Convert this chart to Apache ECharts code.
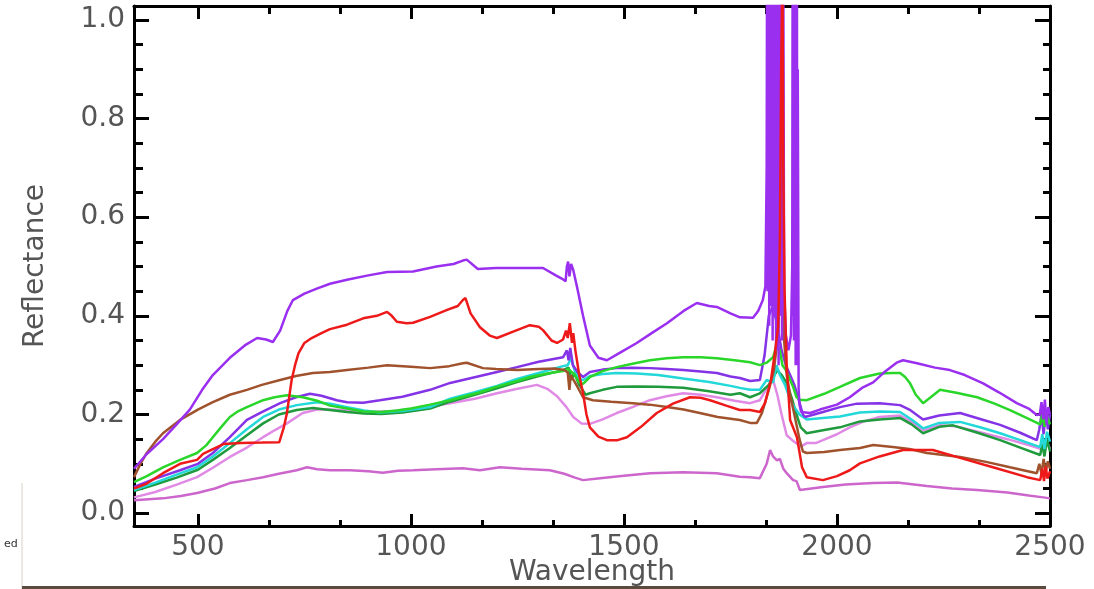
<!DOCTYPE html>
<html>
<head>
<meta charset="utf-8">
<title>Reflectance spectra</title>
<script src="https://cdn.jsdelivr.net/npm/echarts@6/dist/echarts.min.js"></script>
<style>
  html, body { margin: 0; padding: 0; background: #ffffff; }
  #chart { width: 1094px; height: 589px; }
</style>
</head>
<body>
<div id="chart"></div>
<script>
// Axis ticks and labels
const xMajorTicks = [500, 1000, 1500, 2000, 2500];
const xMinorTicks = [667, 833, 1167, 1333, 1667, 1833, 2167, 2333];
const yMajorTicks = [0.0, 0.2, 0.4, 0.6, 0.8, 1.0];
const yMinorTicks = [0.05, 0.1, 0.15, 0.25, 0.3, 0.35, 0.45, 0.5, 0.55, 0.65, 0.7, 0.75, 0.85, 0.9, 0.95];

// Spectra: [wavelength (nm), reflectance]
const specViolet = [
  [350,0.09],[380,0.12],[418,0.15],[450,0.18],[481,0.21],[510,0.25],[535,0.28],[575,0.315],[610,0.34],[639,0.355],
  [660,0.352],[676,0.347],[693,0.37],[710,0.41],[723,0.432],[750,0.445],[779,0.455],[810,0.465],[850,0.473],[900,0.482],
  [944,0.489],[1005,0.49],[1060,0.5],[1100,0.505],[1122,0.512],[1131,0.514],[1157,0.495],[1200,0.497],[1249,0.497],[1310,0.497],
  [1340,0.482],[1355,0.475],[1363,0.47],[1366,0.5],[1369,0.51],[1372,0.48],[1376,0.505],[1381,0.493],[1390,0.458],[1404,0.40],
  [1420,0.34],[1440,0.315],[1460,0.31],[1490,0.325],[1530,0.345],[1565,0.365],[1601,0.385],[1640,0.41],[1671,0.426],[1700,0.42],
  [1718,0.418],[1750,0.405],[1772,0.397],[1803,0.396],[1815,0.41],[1826,0.432],[1832,0.46],[1835,0.7],
  [1836,1.2],[1837,0.45],[1838,1.3],[1839,0.5],[1840,1.25],[1841,0.38],[1842,1.4],[1843,0.6],[1844,1.3],[1845,0.42],
  [1846,1.2],[1847,0.55],[1848,1.35],[1849,0.35],[1850,1.3],[1851,0.5],[1852,1.4],[1853,0.4],[1854,1.25],[1855,0.62],
  [1856,1.3],[1857,0.33],[1858,1.4],[1859,0.5],[1860,1.3],[1861,0.45],[1862,1.35],[1863,0.3],[1864,1.2],[1865,0.55],
  [1866,1.3],[1867,0.4],[1868,1.25],[1869,0.6],[1870,1.35],[1871,0.35],[1872,1.2],[1873,0.5],[1874,1.1],[1876,0.45],
  [1880,0.36],[1886,0.33],[1892,0.36],[1895,0.5],[1896,1.2],[1897,0.4],[1898,1.3],[1899,0.35],[1900,1.25],[1901,0.45],
  [1902,1.3],[1903,0.3],[1904,1.2],[1905,0.5],[1906,1.1],[1907,0.3],[1908,0.9],[1910,0.25],[1912,0.22],[1916,0.205],
  [1937,0.203],[1960,0.21],[2000,0.22],[2030,0.235],[2061,0.255],[2085,0.265],[2110,0.285],[2140,0.305],[2155,0.31],[2188,0.304],
  [2230,0.295],[2265,0.29],[2300,0.28],[2343,0.263],[2380,0.245],[2422,0.223],[2450,0.212],[2469,0.199],[2476,0.2],[2480,0.225],
  [2484,0.19],[2488,0.23],[2492,0.18],[2496,0.215],[2500,0.2]
];

const specRed = [
  [350,0.05],[380,0.06],[418,0.081],[458,0.10],[498,0.108],[512,0.12],[545,0.134],[560,0.14],[600,0.142],[650,0.143],
  [691,0.144],[702,0.175],[709,0.203],[715,0.24],[720,0.27],[728,0.30],[736,0.324],[750,0.345],[767,0.355],[790,0.365],
  [810,0.373],[850,0.382],[888,0.395],[920,0.40],[944,0.408],[955,0.40],[967,0.388],[990,0.385],[1005,0.386],[1045,0.398],
  [1085,0.412],[1110,0.42],[1122,0.432],[1128,0.436],[1140,0.405],[1162,0.377],[1185,0.36],[1202,0.355],[1240,0.368],[1279,0.381],
  [1300,0.378],[1310,0.371],[1330,0.35],[1343,0.345],[1357,0.352],[1364,0.37],[1368,0.355],[1373,0.385],[1378,0.345],[1381,0.365],
  [1386,0.33],[1395,0.28],[1404,0.243],[1412,0.2],[1420,0.174],[1440,0.155],[1460,0.148],[1485,0.148],[1507,0.154],[1540,0.175],
  [1577,0.203],[1615,0.222],[1655,0.235],[1680,0.234],[1702,0.229],[1740,0.218],[1772,0.209],[1796,0.209],[1819,0.205],[1831,0.223],
  [1845,0.27],[1855,0.33],[1862,0.378],[1866,0.55],[1869,0.9],[1872,1.1],[1874,0.7],[1877,0.45],[1882,0.3],[1890,0.189],
  [1906,0.154],[1918,0.093],[1929,0.073],[1967,0.067],[2000,0.075],[2030,0.087],[2054,0.101],[2100,0.115],[2155,0.128],[2225,0.128],
  [2289,0.112],[2366,0.093],[2446,0.073],[2477,0.067],[2482,0.09],[2486,0.065],[2490,0.095],[2494,0.07],[2500,0.085]
];

const specBrown = [
  [350,0.073],[365,0.1],[380,0.122],[400,0.145],[418,0.162],[458,0.189],[500,0.21],[535,0.225],[575,0.24],[615,0.25],
  [650,0.26],[693,0.27],[730,0.278],[770,0.284],[810,0.286],[850,0.29],[900,0.295],[944,0.30],[1000,0.297],[1045,0.294],
  [1090,0.298],[1122,0.304],[1131,0.305],[1169,0.294],[1200,0.292],[1249,0.29],[1300,0.292],[1340,0.293],[1360,0.29],[1368,0.285],
  [1372,0.25],[1375,0.28],[1385,0.265],[1404,0.235],[1427,0.229],[1470,0.226],[1521,0.223],[1560,0.22],[1601,0.215],[1640,0.21],
  [1678,0.203],[1720,0.195],[1772,0.189],[1796,0.183],[1812,0.183],[1824,0.203],[1840,0.25],[1852,0.29],[1860,0.35],[1866,0.5],
  [1870,0.68],[1873,0.45],[1876,0.35],[1882,0.28],[1890,0.24],[1900,0.2],[1912,0.15],[1920,0.125],[1929,0.122],[1970,0.124],
  [2007,0.128],[2054,0.132],[2085,0.138],[2131,0.134],[2170,0.13],[2211,0.122],[2250,0.118],[2289,0.114],[2350,0.104],[2406,0.093],
  [2469,0.081],[2475,0.1],[2480,0.08],[2485,0.11],[2490,0.085],[2495,0.105],[2500,0.09]
];

const specGreen = [
  [350,0.063],[380,0.075],[418,0.093],[458,0.108],[498,0.122],[520,0.138],[535,0.154],[555,0.175],[575,0.195],[595,0.207],
  [615,0.215],[653,0.229],[680,0.235],[709,0.239],[746,0.235],[780,0.228],[810,0.218],[850,0.212],[888,0.206],[930,0.205],
  [967,0.208],[1000,0.212],[1045,0.22],[1092,0.229],[1122,0.236],[1162,0.245],[1200,0.256],[1249,0.268],[1279,0.276],[1320,0.283],
  [1357,0.288],[1370,0.292],[1385,0.28],[1395,0.265],[1404,0.262],[1420,0.276],[1450,0.288],[1483,0.296],[1520,0.303],[1561,0.31],
  [1600,0.314],[1639,0.316],[1680,0.316],[1718,0.314],[1760,0.31],[1796,0.306],[1819,0.30],[1835,0.305],[1850,0.316],[1858,0.34],
  [1866,0.33],[1872,0.3],[1880,0.29],[1890,0.27],[1897,0.256],[1905,0.235],[1913,0.23],[1929,0.229],[1970,0.242],[2007,0.256],
  [2054,0.274],[2100,0.283],[2131,0.284],[2148,0.284],[2160,0.276],[2171,0.264],[2185,0.24],[2202,0.223],[2220,0.235],[2242,0.25],
  [2280,0.244],[2329,0.235],[2370,0.222],[2406,0.209],[2440,0.195],[2477,0.18],[2482,0.2],[2487,0.175],[2492,0.2],[2500,0.18]
];

const specIndigo = [
  [350,0.053],[400,0.07],[458,0.087],[500,0.1],[535,0.122],[575,0.154],[615,0.189],[650,0.205],[693,0.223],[730,0.235],
  [763,0.242],[790,0.238],[826,0.229],[850,0.225],[888,0.224],[927,0.229],[980,0.236],[1045,0.25],[1092,0.264],[1162,0.278],
  [1202,0.286],[1249,0.296],[1300,0.307],[1357,0.316],[1366,0.33],[1370,0.31],[1374,0.335],[1380,0.3],[1392,0.285],[1404,0.276],
  [1420,0.286],[1450,0.291],[1483,0.294],[1520,0.295],[1561,0.294],[1600,0.292],[1639,0.29],[1680,0.287],[1718,0.284],[1750,0.277],
  [1772,0.274],[1796,0.268],[1819,0.27],[1830,0.32],[1840,0.4],[1850,0.42],[1860,0.38],[1870,0.33],[1880,0.3],[1890,0.28],
  [1900,0.26],[1910,0.23],[1920,0.2],[1925,0.195],[1967,0.205],[2007,0.215],[2047,0.222],[2100,0.223],[2148,0.219],[2170,0.21],
  [2202,0.19],[2240,0.198],[2289,0.203],[2340,0.19],[2383,0.179],[2430,0.163],[2469,0.148],[2475,0.17],[2480,0.2],[2485,0.16],
  [2490,0.205],[2495,0.17],[2500,0.2]
];

const specCyan = [
  [350,0.047],[400,0.062],[450,0.078],[498,0.093],[535,0.115],[575,0.142],[615,0.17],[653,0.195],[690,0.21],[732,0.219],
  [779,0.225],[810,0.222],[850,0.215],[890,0.208],[927,0.204],[980,0.207],[1045,0.215],[1092,0.232],[1150,0.245],[1202,0.258],
  [1249,0.272],[1300,0.284],[1357,0.298],[1368,0.3],[1376,0.315],[1384,0.29],[1395,0.272],[1404,0.27],[1420,0.278],[1450,0.282],
  [1483,0.284],[1530,0.283],[1580,0.28],[1639,0.273],[1700,0.266],[1750,0.258],[1772,0.254],[1796,0.25],[1819,0.25],[1835,0.27],
  [1850,0.265],[1858,0.3],[1866,0.28],[1878,0.26],[1890,0.23],[1900,0.215],[1912,0.2],[1929,0.19],[1967,0.193],[2007,0.196],
  [2054,0.204],[2100,0.206],[2148,0.205],[2175,0.19],[2202,0.172],[2240,0.183],[2289,0.185],[2340,0.173],[2383,0.162],[2430,0.148],
  [2477,0.134],[2482,0.16],[2487,0.13],[2493,0.165],[2500,0.145]
];

const specForest = [
  [350,0.045],[400,0.058],[450,0.072],[500,0.088],[535,0.108],[575,0.132],[615,0.158],[653,0.182],[690,0.2],[732,0.209],
  [770,0.213],[810,0.209],[850,0.205],[890,0.202],[930,0.201],[980,0.204],[1045,0.212],[1092,0.226],[1150,0.24],[1202,0.253],
  [1249,0.266],[1300,0.278],[1357,0.29],[1370,0.295],[1377,0.27],[1383,0.285],[1395,0.26],[1410,0.24],[1420,0.243],[1450,0.25],
  [1483,0.256],[1530,0.257],[1580,0.256],[1639,0.254],[1700,0.247],[1750,0.24],[1772,0.243],[1796,0.235],[1819,0.243],[1840,0.26],
  [1860,0.29],[1870,0.28],[1882,0.264],[1895,0.23],[1905,0.2],[1915,0.174],[1929,0.162],[1967,0.168],[2007,0.174],[2054,0.186],
  [2100,0.19],[2148,0.193],[2175,0.18],[2202,0.162],[2240,0.175],[2272,0.178],[2330,0.163],[2383,0.148],[2430,0.133],[2477,0.118],
  [2482,0.14],[2487,0.115],[2493,0.15],[2500,0.125]
];

const specPink = [
  [350,0.032],[400,0.043],[450,0.058],[498,0.073],[535,0.092],[575,0.114],[615,0.133],[653,0.154],[680,0.168],[709,0.182],
  [746,0.203],[780,0.21],[810,0.21],[850,0.208],[900,0.205],[960,0.207],[1020,0.213],[1092,0.223],[1150,0.232],[1202,0.243],
  [1250,0.252],[1296,0.26],[1320,0.252],[1343,0.237],[1365,0.215],[1381,0.195],[1400,0.182],[1420,0.181],[1450,0.19],[1483,0.203],
  [1520,0.215],[1561,0.229],[1600,0.237],[1639,0.243],[1680,0.24],[1718,0.235],[1760,0.228],[1796,0.223],[1819,0.229],[1840,0.26],
  [1850,0.27],[1860,0.24],[1870,0.2],[1882,0.158],[1895,0.148],[1915,0.135],[1929,0.142],[1950,0.142],[1967,0.148],[2000,0.16],
  [2030,0.174],[2060,0.185],[2100,0.195],[2148,0.198],[2175,0.185],[2202,0.168],[2240,0.178],[2280,0.176],[2340,0.163],[2400,0.15],
  [2450,0.138],[2480,0.13],[2490,0.15],[2500,0.13]
];

const specOrchid = [
  [350,0.026],[418,0.03],[460,0.035],[498,0.041],[540,0.05],[575,0.061],[615,0.067],[653,0.073],[690,0.08],[732,0.087],
  [756,0.093],[780,0.089],[810,0.087],[857,0.087],[900,0.085],[934,0.082],[970,0.086],[1005,0.087],[1060,0.089],[1122,0.091],
  [1162,0.087],[1209,0.093],[1260,0.09],[1326,0.087],[1360,0.08],[1385,0.072],[1404,0.067],[1444,0.071],[1500,0.076],[1561,0.081],
  [1639,0.083],[1718,0.081],[1772,0.074],[1796,0.073],[1819,0.071],[1835,0.1],[1843,0.128],[1850,0.115],[1859,0.107],[1866,0.11],
  [1874,0.09],[1882,0.081],[1897,0.067],[1905,0.065],[1913,0.047],[1940,0.05],[1967,0.053],[2020,0.058],[2085,0.061],[2141,0.062],
  [2211,0.055],[2270,0.05],[2329,0.047],[2400,0.042],[2450,0.036],[2484,0.032],[2500,0.03]
];

// Drawing order (last on top) and colours
const spectra = [
  { data: specOrchid, color: '#cc66cc' },
  { data: specPink,   color: '#e08ae6' },
  { data: specForest, color: '#1f9a3c' },
  { data: specCyan,   color: '#22d8d8' },
  { data: specIndigo, color: '#8433e6' },
  { data: specGreen,  color: '#2ad62a' },
  { data: specBrown,  color: '#a0522d' },
  { data: specViolet, color: '#9a2ff0' },
  { data: specRed,    color: '#ee1a1a' }
];

const X_MIN = 350, X_MAX = 2500;
const Y_MIN = -0.026, Y_MAX = 1.028;
const FONT = 'DejaVu Sans';
const TEXT_COLOR = '#555';

function frameAxis(position, ticks, len, isMain) {
  const vertical = position === 'left' || position === 'right';
  return {
    type: 'value',
    position: position,
    min: vertical ? Y_MIN : X_MIN,
    max: vertical ? Y_MAX : X_MAX,
    axisLine: { show: isMain, onZero: false, lineStyle: { color: '#000', width: 3 } },
    axisTick: { show: true, inside: true, length: len, customValues: ticks, lineStyle: { color: '#000', width: 3 } },
    axisLabel: { show: false },
    splitLine: { show: false }
  };
}

const chart = echarts.init(document.getElementById('chart'), null, { renderer: 'canvas' });

const xBottom = frameAxis('bottom', xMajorTicks, 12, true);
xBottom.axisLabel = {
  show: true, customValues: xMajorTicks, margin: 8,
  fontFamily: FONT, fontSize: 28, color: TEXT_COLOR,
  formatter: v => String(Math.round(v))
};
xBottom.name = 'Wavelength';
xBottom.nameLocation = 'middle';
xBottom.nameGap = 33;
xBottom.nameMoveOverlap = false;
xBottom.nameTextStyle = { fontFamily: FONT, fontSize: 28, color: TEXT_COLOR };

const yLeft = frameAxis('left', yMajorTicks, 15, true);
yLeft.axisLabel = {
  show: true, customValues: yMajorTicks, margin: 9,
  fontFamily: FONT, fontSize: 28, color: TEXT_COLOR,
  formatter: v => v.toFixed(1)
};
yLeft.name = 'Reflectance';
yLeft.nameLocation = 'middle';
yLeft.nameGap = 84;
yLeft.nameMoveOverlap = false;
yLeft.nameTextStyle = { fontFamily: FONT, fontSize: 28, color: TEXT_COLOR };

chart.setOption({
  animation: false,
  backgroundColor: '#ffffff',
  grid: { left: 134, right: 44, top: 6, bottom: 63, containLabel: false, outerBoundsMode: 'none' },
  xAxis: [
    xBottom,
    frameAxis('bottom', xMinorTicks, 6, false),
    frameAxis('top', xMajorTicks, 13, true),
    frameAxis('top', xMinorTicks, 8, false)
  ],
  yAxis: [
    yLeft,
    frameAxis('left', yMinorTicks, 9, false),
    frameAxis('right', yMajorTicks, 15, true),
    frameAxis('right', yMinorTicks, 7, false)
  ],
  series: spectra.map(s => ({
    type: 'line',
    xAxisIndex: 0,
    yAxisIndex: 0,
    data: s.data,
    showSymbol: false,
    symbol: 'none',
    clip: true,
    lineStyle: { color: s.color, width: 2.5 },
    emphasis: { disabled: true }
  })),
  graphic: [
    { type: 'line', shape: { x1: 22, y1: 483, x2: 22, y2: 589 }, style: { stroke: '#d8d2c8', lineWidth: 1 } },
    { type: 'rect', shape: { x: 22, y: 586, width: 1024, height: 3 }, style: { fill: '#5b4b3e' } },
    { type: 'text', left: 4, top: 539, style: { text: 'ed', fontFamily: FONT, fontSize: 11, fill: '#333' } }
  ]
});
</script>
</body>
</html>
